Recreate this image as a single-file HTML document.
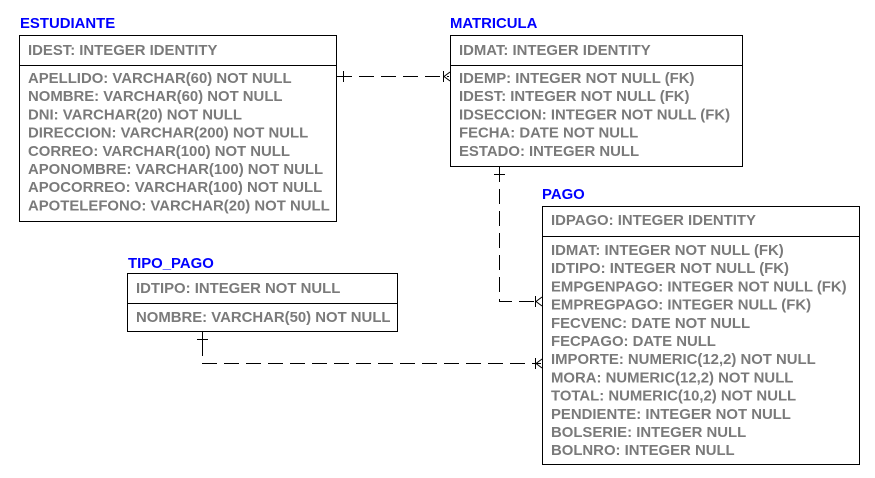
<!DOCTYPE html>
<html><head><meta charset="utf-8"><style>
html,body{margin:0;padding:0;background:#fff;}
svg{display:block;}
.t{font-family:"Liberation Sans",Arial,sans-serif;font-weight:bold;font-size:14.9px;fill:#0000ff;}
.r{font-family:"Liberation Sans",Arial,sans-serif;font-weight:bold;font-size:14.9px;fill:#7a7a7a;}
</style></head><body>
<svg width="875" height="478" viewBox="0 0 875 478" xmlns="http://www.w3.org/2000/svg">
<g fill="none" stroke="#000" stroke-width="1" shape-rendering="crispEdges">
<rect x="19.5" y="35.5" width="317" height="186"/><line x1="19" y1="65.5" x2="337" y2="65.5"/>
<rect x="450.5" y="35.5" width="292" height="131"/><line x1="450" y1="65.5" x2="743" y2="65.5"/>
<rect x="542.5" y="206.5" width="317" height="258"/><line x1="542" y1="236.5" x2="860" y2="236.5"/>
<rect x="127.5" y="273.5" width="270" height="58"/><line x1="127" y1="303.5" x2="398" y2="303.5"/>
</g>
<g fill="none" stroke="#000" stroke-width="1">
<line x1="337" y1="76.5" x2="449" y2="76.5" stroke-dasharray="15,7"/>
<line x1="343.5" y1="71" x2="343.5" y2="82"/>
<line x1="443.5" y1="71" x2="443.5" y2="82"/>
<polyline points="450,72 444,76.5 450,81"/>
<polyline points="499.5,167 499.5,301.5 541,301.5" stroke-dasharray="15,7"/>
<line x1="494" y1="174.5" x2="505" y2="174.5"/>
<line x1="535.5" y1="296" x2="535.5" y2="307"/>
<polyline points="542,297 536,301.5 542,306"/>
<line x1="202.5" y1="332" x2="202.5" y2="356"/>
<line x1="197" y1="339.5" x2="208" y2="339.5"/>
<line x1="202" y1="363.5" x2="541" y2="363.5" stroke-dasharray="15,7"/>
<line x1="535.5" y1="358" x2="535.5" y2="369"/>
<polyline points="542,359 536,363.5 542,368"/>
</g>
<text class="t" x="20" y="28">ESTUDIANTE</text>
<text class="r" x="28" y="55">IDEST: INTEGER IDENTITY</text>
<text class="r" x="28" y="83">APELLIDO: VARCHAR(60) NOT NULL</text>
<text class="r" x="28" y="101.2">NOMBRE: VARCHAR(60) NOT NULL</text>
<text class="r" x="28" y="119.4">DNI: VARCHAR(20) NOT NULL</text>
<text class="r" x="28" y="137.6">DIRECCION: VARCHAR(200) NOT NULL</text>
<text class="r" x="28" y="155.8">CORREO: VARCHAR(100) NOT NULL</text>
<text class="r" x="28" y="174">APONOMBRE: VARCHAR(100) NOT NULL</text>
<text class="r" x="28" y="192.2">APOCORREO: VARCHAR(100) NOT NULL</text>
<text class="r" x="28" y="210.4">APOTELEFONO: VARCHAR(20) NOT NULL</text>

<text class="t" x="450" y="28">MATRICULA</text>
<text class="r" x="459" y="55">IDMAT: INTEGER IDENTITY</text>
<text class="r" x="459" y="83">IDEMP: INTEGER NOT NULL (FK)</text>
<text class="r" x="459" y="101.2">IDEST: INTEGER NOT NULL (FK)</text>
<text class="r" x="459" y="119.4">IDSECCION: INTEGER NOT NULL (FK)</text>
<text class="r" x="459" y="137.6">FECHA: DATE NOT NULL</text>
<text class="r" x="459" y="155.8">ESTADO: INTEGER NULL</text>

<text class="t" x="542" y="199">PAGO</text>
<text class="r" x="551" y="225">IDPAGO: INTEGER IDENTITY</text>
<text class="r" x="551" y="255">IDMAT: INTEGER NOT NULL (FK)</text>
<text class="r" x="551" y="273.2">IDTIPO: INTEGER NOT NULL (FK)</text>
<text class="r" x="551" y="291.4">EMPGENPAGO: INTEGER NOT NULL (FK)</text>
<text class="r" x="551" y="309.6">EMPREGPAGO: INTEGER NULL (FK)</text>
<text class="r" x="551" y="327.8">FECVENC: DATE NOT NULL</text>
<text class="r" x="551" y="346">FECPAGO: DATE NULL</text>
<text class="r" x="551" y="364.2">IMPORTE: NUMERIC(12,2) NOT NULL</text>
<text class="r" x="551" y="382.4">MORA: NUMERIC(12,2) NOT NULL</text>
<text class="r" x="551" y="400.6">TOTAL: NUMERIC(10,2) NOT NULL</text>
<text class="r" x="551" y="418.8">PENDIENTE: INTEGER NOT NULL</text>
<text class="r" x="551" y="437">BOLSERIE: INTEGER NULL</text>
<text class="r" x="551" y="455.2">BOLNRO: INTEGER NULL</text>

<text class="t" x="128" y="268">TIPO_PAGO</text>
<text class="r" x="136" y="293">IDTIPO: INTEGER NOT NULL</text>
<text class="r" x="136" y="322">NOMBRE: VARCHAR(50) NOT NULL</text>
</svg>
</body></html>
